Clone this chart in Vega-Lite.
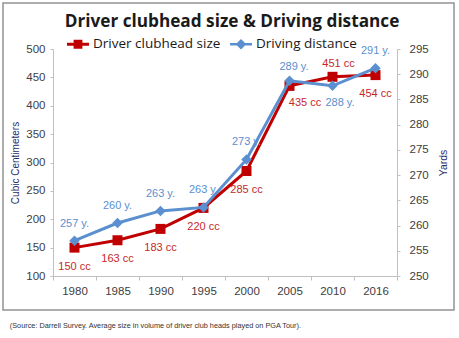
{
  "$schema": "https://vega.github.io/schema/vega-lite/v6.json",
  "width": 451,
  "height": 307,
  "autosize": {"type": "none"},
  "padding": {"left": 3, "top": 3, "right": 5, "bottom": 28},
  "background": "white",
  "config": {
    "view": {"stroke": "#939393", "strokeWidth": 1.5},
    "font": "Liberation Sans",
    "axis": {
      "grid": false,
      "domainColor": "#c0c0c0",
      "tickColor": "#c0c0c0",
      "labelColor": "#404040",
      "labelFont": "Liberation Sans",
      "labelFontSize": 11.5
    }
  },
  "title": {
    "text": "Driver clubhead size & Driving distance",
    "font": "Open Sans",
    "fontSize": 17.2,
    "fontWeight": "bold",
    "color": "#1a1a1a",
    "anchor": "middle",
    "frame": "group",
    "offset": -27,
    "dx": 3.5
  },
  "data": {
    "values": [
      {"year": "1980", "series": "Driver clubhead size", "value": 150, "label": "150 cc"},
      {"year": "1985", "series": "Driver clubhead size", "value": 163, "label": "163 cc"},
      {"year": "1990", "series": "Driver clubhead size", "value": 183, "label": "183 cc"},
      {"year": "1995", "series": "Driver clubhead size", "value": 220, "label": "220 cc"},
      {"year": "2000", "series": "Driver clubhead size", "value": 285, "label": "285 cc"},
      {"year": "2005", "series": "Driver clubhead size", "value": 435, "label": "435 cc"},
      {"year": "2010", "series": "Driver clubhead size", "value": 451, "label": "451 cc"},
      {"year": "2016", "series": "Driver clubhead size", "value": 454, "label": "454 cc"},
      {"year": "1980", "series": "Driving distance", "value": 257, "label": "257 y."},
      {"year": "1985", "series": "Driving distance", "value": 260.5, "label": "260 y."},
      {"year": "1990", "series": "Driving distance", "value": 262.9, "label": "263 y."},
      {"year": "1995", "series": "Driving distance", "value": 263.6, "label": "263 y."},
      {"year": "2000", "series": "Driving distance", "value": 273.1, "label": "273 y."},
      {"year": "2005", "series": "Driving distance", "value": 288.7, "label": "289 y."},
      {"year": "2010", "series": "Driving distance", "value": 287.7, "label": "288 y."},
      {"year": "2016", "series": "Driving distance", "value": 291.2, "label": "291 y."}
    ]
  },
  "encoding": {
    "x": {
      "field": "year",
      "type": "ordinal",
      "scale": {"type": "band", "range": [50, 394], "paddingInner": 0, "paddingOuter": 0},
      "axis": {
        "orient": "bottom",
        "offset": -34,
        "labelAngle": 0,
        "tickBand": "extent",
        "tickSize": 4,
        "labelPadding": 5,
        "title": "(Source: Darrell Survey. Average size in volume of driver club heads played on PGA Tour).",
        "titleFont": "Liberation Sans",
        "titleFontSize": 7.3,
        "titleFontWeight": "normal",
        "titleColor": "#333333",
        "titleX": 6.3,
        "titleY": 49,
        "titleAlign": "left",
        "titleBaseline": "middle",
        "titleAnchor": "start"
      }
    }
  },
  "layer": [
    {
      "transform": [{"filter": "datum.series === 'Driver clubhead size'"}],
      "encoding": {
        "y": {
          "field": "value",
          "type": "quantitative",
          "scale": {"domain": [100, 500], "range": [273, 46], "nice": false, "zero": false},
          "axis": {
            "orient": "left",
            "offset": -50,
            "values": [100, 150, 200, 250, 300, 350, 400, 450, 500],
            "tickSize": 3,
            "labelPadding": 5,
            "title": "Cubic Centimeters",
            "titleFont": "Liberation Sans",
            "titleFontSize": 10,
            "titleFontWeight": "normal",
            "titleColor": "#1F2F6B",
            "titleAngle": 270,
            "titleX": -38,
            "titleY": 159.5,
            "titleAlign": "center",
            "titleBaseline": "middle"
          }
        }
      },
      "layer": [
        {
          "mark": {"type": "line", "strokeWidth": 3},
          "encoding": {
            "color": {
              "field": "series",
              "type": "nominal",
              "scale": {"domain": ["Driver clubhead size", "Driving distance"], "range": ["#C00000", "#5B8FCF"]},
              "legend": {
                "title": null,
                "orient": "none",
                "legendX": 64,
                "legendY": 30,
                "padding": 0,
                "direction": "horizontal",
                "symbolSize": 484,
                "labelFont": "Open Sans",
                "labelFontSize": 13.5,
                "labelColor": "#1a1a1a",
                "labelOffset": 4,
                "columnPadding": 9,
                "encode": {
                  "symbols": {
                    "update": {
                      "shape": {"signal": "datum.value === 'Driver clubhead size' ? 'M-1,-0.14H1V0.14H-1Z M-0.4,-0.4H0.4V0.4H-0.4Z' : 'M-1,-0.12H1V0.12H-1Z M0,-0.48L0.48,0L0,0.48L-0.48,0Z'"},
                      "fill": {"signal": "datum.value === 'Driver clubhead size' ? '#C00000' : '#5B8FCF'"},
                      "fillOpacity": {"value": 1},
                      "opacity": {"value": 1},
                      "strokeWidth": {"value": 0}
                    }
                  }
                }
              }
            }
          }
        },
        {
          "mark": {"type": "point", "shape": "square", "filled": true, "size": 100, "opacity": 1, "color": "#C00000"}
        },
        {
          "transform": [{"filter": {"field": "year", "oneOf": ["1980", "1985", "1990", "1995", "2000", "2016"]}}],
          "mark": {"type": "text", "dy": 19, "font": "Liberation Sans", "fontSize": 11, "color": "#C62828", "baseline": "middle"},
          "encoding": {"text": {"field": "label"}}
        },
        {
          "transform": [{"filter": {"field": "year", "equal": "2005"}}],
          "mark": {"type": "text", "dx": 15.5, "dy": 17, "font": "Liberation Sans", "fontSize": 11, "color": "#C62828", "baseline": "middle"},
          "encoding": {"text": {"field": "label"}}
        },
        {
          "transform": [{"filter": {"field": "year", "equal": "2010"}}],
          "mark": {"type": "text", "dx": 6, "dy": -13, "font": "Liberation Sans", "fontSize": 11, "color": "#C62828", "baseline": "middle"},
          "encoding": {"text": {"field": "label"}}
        }
      ]
    },
    {
      "transform": [{"filter": "datum.series === 'Driving distance'"}],
      "encoding": {
        "y": {
          "field": "value",
          "type": "quantitative",
          "scale": {"domain": [250, 295], "range": [273, 46], "nice": false, "zero": false},
          "axis": {
            "orient": "right",
            "offset": -57,
            "values": [250, 255, 260, 265, 270, 275, 280, 285, 290, 295],
            "tickSize": 3,
            "labelPadding": 9,
            "title": "Yards",
            "titleFont": "Liberation Sans",
            "titleFontSize": 10.5,
            "titleFontWeight": "normal",
            "titleColor": "#1F2F6B",
            "titleAngle": 270,
            "titleX": 46,
            "titleY": 159.5,
            "titleAlign": "center",
            "titleBaseline": "middle"
          }
        }
      },
      "layer": [
        {
          "mark": {"type": "line", "strokeWidth": 3},
          "encoding": {
            "color": {"field": "series", "type": "nominal"}
          }
        },
        {
          "mark": {"type": "point", "shape": "diamond", "filled": true, "size": 110, "opacity": 1, "color": "#5B8FCF"}
        },
        {
          "transform": [{"filter": {"field": "year", "oneOf": ["1980", "1985", "1990", "1995", "2000", "2016"]}}],
          "mark": {"type": "text", "dy": -17, "font": "Liberation Sans", "fontSize": 11, "color": "#5B8FCF", "baseline": "middle"},
          "encoding": {"text": {"field": "label"}}
        },
        {
          "transform": [{"filter": {"field": "year", "equal": "2005"}}],
          "mark": {"type": "text", "dx": 4.5, "dy": -14, "font": "Liberation Sans", "fontSize": 11, "color": "#5B8FCF", "baseline": "middle"},
          "encoding": {"text": {"field": "label"}}
        },
        {
          "transform": [{"filter": {"field": "year", "equal": "2010"}}],
          "mark": {"type": "text", "dx": 7.5, "dy": 17, "font": "Liberation Sans", "fontSize": 11, "color": "#5B8FCF", "baseline": "middle"},
          "encoding": {"text": {"field": "label"}}
        }
      ]
    }
  ],
  "resolve": {"scale": {"y": "independent"}}
}
